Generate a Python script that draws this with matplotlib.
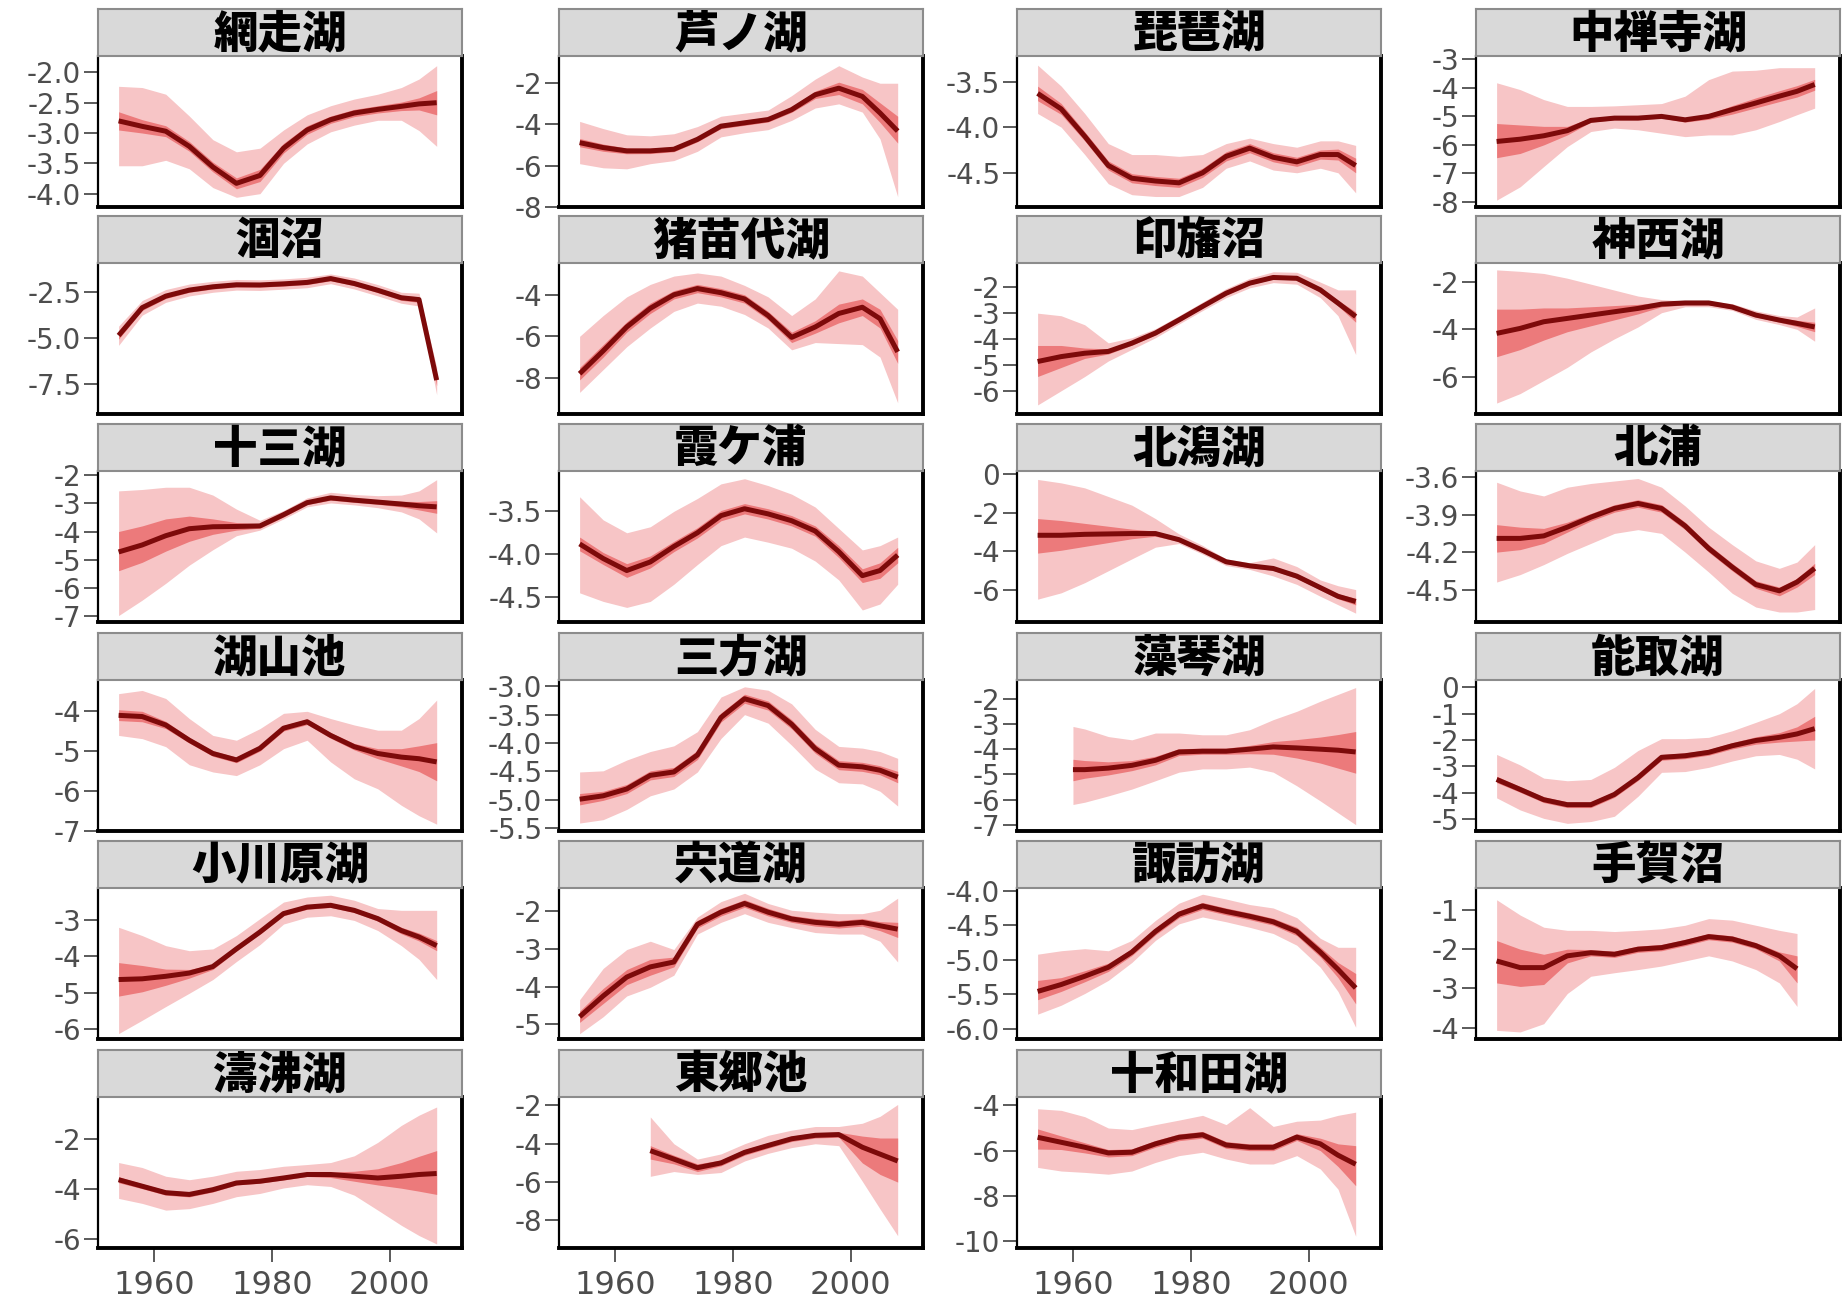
import numpy as np
import matplotlib
matplotlib.use('Agg')
import matplotlib.pyplot as plt

years = [1954, 1958, 1962, 1966, 1970, 1974, 1978, 1982, 1986, 1990, 1994, 1998, 2002, 2005, 2008]
years_mokoto = [1960, 1962, 1966, 1970, 1974, 1978, 1982, 1986, 1990, 1994, 1998, 2002, 2005, 2008]
years_togo = [1966, 1970, 1974, 1978, 1982, 1986, 1990, 1994, 1998, 2002, 2005, 2008]
years_tega = [1954, 1958, 1962, 1966, 1970, 1974, 1978, 1982, 1986, 1990, 1994, 1998, 2002, 2005]
lake_years = {'藻琴湖': years_mokoto, '東郷池': years_togo, '手賀沼': years_tega}

lakes = ['網走湖', '芦ノ湖', '琵琶湖', '中禅寺湖',
         '涸沼', '猪苗代湖', '印旛沼', '神西湖',
         '十三湖', '霞ケ浦', '北潟湖', '北浦',
         '湖山池', '三方湖', '藻琴湖', '能取湖',
         '小川原湖', '宍道湖', '諏訪湖', '手賀沼',
         '濤沸湖', '東郷池', '十和田湖']

mean_vals = {
    '網走湖': [-2.80, -2.89, -2.97, -3.22, -3.56, -3.83, -3.70, -3.25, -2.95, -2.78, -2.67, -2.61, -2.56, -2.52, -2.50],
    '芦ノ湖': [-4.88, -5.12, -5.28, -5.28, -5.20, -4.72, -4.08, -3.92, -3.76, -3.28, -2.56, -2.24, -2.64, -3.44, -4.32],
    '琵琶湖': [-3.63, -3.80, -4.10, -4.42, -4.56, -4.59, -4.61, -4.50, -4.32, -4.23, -4.33, -4.38, -4.30, -4.30, -4.42],
    '中禅寺湖': [-5.88, -5.80, -5.68, -5.50, -5.14, -5.06, -5.06, -5.00, -5.12, -5.00, -4.76, -4.53, -4.29, -4.12, -3.88],
    '涸沼': [-4.86, -3.34, -2.71, -2.38, -2.20, -2.09, -2.10, -2.04, -1.96, -1.75, -2.02, -2.39, -2.80, -2.90, -7.30],
    '猪苗代湖': [-7.80, -6.70, -5.55, -4.65, -4.00, -3.70, -3.90, -4.20, -5.00, -6.05, -5.55, -4.90, -4.60, -5.15, -6.75],
    '印旛沼': [-4.87, -4.68, -4.55, -4.48, -4.16, -3.77, -3.26, -2.74, -2.23, -1.84, -1.62, -1.65, -2.10, -2.61, -3.13],
    '神西湖': [-4.17, -3.96, -3.68, -3.54, -3.40, -3.26, -3.12, -2.94, -2.89, -2.89, -3.06, -3.40, -3.61, -3.75, -3.90],
    '十三湖': [-4.73, -4.48, -4.15, -3.90, -3.83, -3.82, -3.80, -3.40, -2.97, -2.80, -2.88, -2.95, -3.02, -3.08, -3.12],
    '霞ケ浦': [-3.88, -4.05, -4.19, -4.09, -3.91, -3.75, -3.55, -3.47, -3.53, -3.61, -3.73, -3.97, -4.25, -4.19, -4.01],
    '北潟湖': [-3.17, -3.17, -3.12, -3.10, -3.08, -3.08, -3.40, -3.95, -4.55, -4.76, -4.90, -5.30, -5.90, -6.35, -6.62],
    '北浦': [-4.09, -4.09, -4.07, -4.00, -3.92, -3.85, -3.81, -3.85, -3.99, -4.17, -4.32, -4.46, -4.51, -4.44, -4.33],
    '湖山池': [-4.12, -4.15, -4.36, -4.74, -5.07, -5.23, -4.94, -4.44, -4.28, -4.62, -4.90, -5.07, -5.16, -5.20, -5.28],
    '三方湖': [-4.99, -4.93, -4.81, -4.57, -4.51, -4.21, -3.55, -3.22, -3.34, -3.67, -4.10, -4.39, -4.42, -4.48, -4.60],
    '藻琴湖': [-4.81, -4.81, -4.75, -4.64, -4.44, -4.11, -4.08, -4.08, -4.00, -3.91, -3.95, -4.00, -4.04, -4.11],
    '能取湖': [-3.50, -3.88, -4.27, -4.46, -4.46, -4.07, -3.43, -2.66, -2.60, -2.47, -2.22, -2.02, -1.90, -1.77, -1.57],
    '小川原湖': [-4.64, -4.62, -4.55, -4.46, -4.28, -3.79, -3.32, -2.81, -2.63, -2.58, -2.72, -2.95, -3.28, -3.46, -3.70],
    '宍道湖': [-4.80, -4.25, -3.75, -3.48, -3.35, -2.35, -2.03, -1.80, -2.03, -2.21, -2.30, -2.35, -2.30, -2.39, -2.48],
    '諏訪湖': [-5.46, -5.36, -5.24, -5.11, -4.89, -4.59, -4.34, -4.22, -4.30, -4.37, -4.45, -4.59, -4.89, -5.14, -5.41],
    '手賀沼': [-2.30, -2.47, -2.47, -2.17, -2.09, -2.13, -2.00, -1.96, -1.83, -1.68, -1.74, -1.91, -2.17, -2.50],
    '濤沸湖': [-3.64, -3.90, -4.16, -4.23, -4.04, -3.77, -3.70, -3.57, -3.43, -3.43, -3.50, -3.57, -3.50, -3.43, -3.39],
    '東郷池': [-4.36, -4.80, -5.25, -5.00, -4.45, -4.09, -3.74, -3.56, -3.52, -4.18, -4.54, -4.90],
    '十和田湖': [-5.41, -5.63, -5.85, -6.10, -6.07, -5.70, -5.41, -5.30, -5.75, -5.85, -5.85, -5.40, -5.70, -6.20, -6.60],
}

inner_lo = {
    '網走湖': [-2.95, -3.00, -3.06, -3.30, -3.64, -3.92, -3.80, -3.33, -3.02, -2.84, -2.73, -2.67, -2.63, -2.62, -2.70],
    '芦ノ湖': [-5.08, -5.30, -5.42, -5.41, -5.32, -4.84, -4.20, -4.04, -3.88, -3.41, -2.74, -2.55, -3.00, -3.90, -4.90],
    '琵琶湖': [-3.71, -3.86, -4.15, -4.47, -4.61, -4.64, -4.66, -4.55, -4.37, -4.28, -4.38, -4.43, -4.35, -4.36, -4.50],
    '中禅寺湖': [-6.45, -6.30, -6.00, -5.65, -5.20, -5.12, -5.12, -5.06, -5.20, -5.10, -4.92, -4.70, -4.48, -4.32, -4.08],
    '涸沼': [-5.06, -3.49, -2.84, -2.50, -2.32, -2.21, -2.22, -2.16, -2.08, -1.87, -2.14, -2.52, -2.94, -3.05, -7.60],
    '猪苗代湖': [-8.10, -7.00, -5.80, -4.90, -4.20, -3.90, -4.10, -4.40, -5.20, -6.30, -5.85, -5.35, -5.00, -5.60, -7.30],
    '印旛沼': [-5.45, -5.10, -4.75, -4.58, -4.24, -3.84, -3.33, -2.80, -2.29, -1.90, -1.68, -1.72, -2.18, -2.72, -3.35],
    '神西湖': [-5.15, -4.85, -4.45, -4.10, -3.85, -3.60, -3.35, -3.05, -2.97, -2.97, -3.14, -3.48, -3.70, -3.88, -4.10],
    '十三湖': [-5.40, -5.10, -4.70, -4.35, -4.10, -3.95, -3.88, -3.48, -3.04, -2.88, -2.96, -3.03, -3.12, -3.23, -3.35],
    '霞ケ浦': [-3.96, -4.12, -4.27, -4.16, -3.97, -3.81, -3.61, -3.53, -3.59, -3.67, -3.79, -4.04, -4.33, -4.28, -4.10],
    '北潟湖': [-4.10, -3.95, -3.75, -3.55, -3.35, -3.22, -3.50, -4.05, -4.65, -4.86, -5.00, -5.42, -6.02, -6.48, -6.80],
    '北浦': [-4.20, -4.18, -4.13, -4.04, -3.95, -3.88, -3.84, -3.88, -4.02, -4.20, -4.35, -4.49, -4.55, -4.48, -4.38],
    '湖山池': [-4.25, -4.28, -4.45, -4.81, -5.14, -5.30, -5.01, -4.51, -4.35, -4.69, -4.98, -5.20, -5.38, -5.52, -5.75],
    '三方湖': [-5.09, -5.01, -4.89, -4.65, -4.59, -4.29, -3.63, -3.30, -3.42, -3.75, -4.18, -4.47, -4.50, -4.56, -4.70],
    '藻琴湖': [-5.25, -5.15, -5.02, -4.85, -4.62, -4.25, -4.20, -4.20, -4.18, -4.20, -4.35, -4.55, -4.75, -4.95],
    '能取湖': [-3.62, -3.99, -4.38, -4.57, -4.57, -4.18, -3.54, -2.77, -2.71, -2.58, -2.34, -2.16, -2.08, -2.04, -2.00],
    '小川原湖': [-5.10, -4.98, -4.80, -4.60, -4.36, -3.85, -3.38, -2.87, -2.69, -2.64, -2.78, -3.02, -3.37, -3.57, -3.84],
    '宍道湖': [-4.95, -4.45, -3.95, -3.70, -3.48, -2.45, -2.13, -1.90, -2.13, -2.30, -2.40, -2.45, -2.40, -2.52, -2.70],
    '諏訪湖': [-5.58, -5.46, -5.32, -5.17, -4.94, -4.64, -4.39, -4.27, -4.35, -4.42, -4.50, -4.65, -4.96, -5.26, -5.64],
    '手賀沼': [-2.86, -2.95, -2.90, -2.35, -2.17, -2.21, -2.08, -2.04, -1.91, -1.76, -1.82, -1.99, -2.30, -2.86],
    '濤沸湖': [-3.76, -4.00, -4.26, -4.33, -4.13, -3.85, -3.78, -3.65, -3.51, -3.55, -3.70, -3.85, -3.98, -4.10, -4.23],
    '東郷池': [-4.80, -5.05, -5.45, -5.15, -4.60, -4.23, -3.88, -3.70, -3.66, -5.00, -5.60, -6.00],
    '十和田湖': [-5.93, -5.95, -6.10, -6.28, -6.22, -5.85, -5.56, -5.45, -5.90, -6.00, -6.00, -5.55, -6.00, -6.70, -7.55],
}

inner_hi = {
    '網走湖': [-2.65, -2.78, -2.88, -3.14, -3.48, -3.74, -3.60, -3.17, -2.88, -2.72, -2.61, -2.55, -2.49, -2.42, -2.30],
    '芦ノ湖': [-4.68, -4.95, -5.14, -5.15, -5.08, -4.60, -3.96, -3.80, -3.64, -3.15, -2.38, -1.95, -2.30, -2.95, -3.60],
    '琵琶湖': [-3.55, -3.74, -4.05, -4.37, -4.51, -4.54, -4.56, -4.45, -4.27, -4.18, -4.28, -4.33, -4.25, -4.24, -4.34],
    '中禅寺湖': [-5.25, -5.30, -5.35, -5.35, -5.05, -5.00, -5.00, -4.95, -5.05, -4.92, -4.62, -4.35, -4.10, -3.92, -3.70],
    '涸沼': [-4.66, -3.19, -2.58, -2.26, -2.08, -1.97, -1.98, -1.92, -1.84, -1.63, -1.90, -2.26, -2.66, -2.75, -7.00],
    '猪苗代湖': [-7.50, -6.40, -5.30, -4.40, -3.80, -3.50, -3.70, -4.00, -4.80, -5.80, -5.25, -4.45, -4.20, -4.70, -6.20],
    '印旛沼': [-4.25, -4.25, -4.35, -4.38, -4.08, -3.70, -3.19, -2.68, -2.17, -1.78, -1.56, -1.58, -2.02, -2.50, -2.95],
    '神西湖': [-3.15, -3.15, -3.10, -3.10, -3.05, -3.00, -2.95, -2.85, -2.82, -2.82, -2.98, -3.32, -3.52, -3.62, -3.70],
    '十三湖': [-4.00, -3.80, -3.55, -3.45, -3.55, -3.68, -3.72, -3.32, -2.90, -2.72, -2.80, -2.87, -2.92, -2.93, -2.90],
    '霞ケ浦': [-3.80, -3.98, -4.11, -4.02, -3.85, -3.69, -3.49, -3.41, -3.47, -3.55, -3.67, -3.90, -4.17, -4.10, -3.92],
    '北潟湖': [-2.30, -2.40, -2.55, -2.70, -2.85, -2.95, -3.30, -3.85, -4.45, -4.66, -4.80, -5.18, -5.78, -6.22, -6.45],
    '北浦': [-3.98, -4.00, -4.01, -3.96, -3.89, -3.82, -3.78, -3.82, -3.96, -4.14, -4.29, -4.43, -4.48, -4.41, -4.29],
    '湖山池': [-3.98, -4.02, -4.27, -4.67, -5.00, -5.16, -4.87, -4.37, -4.21, -4.55, -4.82, -4.95, -4.95, -4.88, -4.80],
    '三方湖': [-4.89, -4.85, -4.73, -4.49, -4.43, -4.13, -3.47, -3.14, -3.26, -3.59, -4.02, -4.31, -4.34, -4.40, -4.50],
    '藻琴湖': [-4.40, -4.45, -4.50, -4.45, -4.28, -3.98, -3.96, -3.96, -3.85, -3.70, -3.62, -3.52, -3.42, -3.30],
    '能取湖': [-3.38, -3.77, -4.16, -4.35, -4.35, -3.96, -3.32, -2.55, -2.49, -2.36, -2.10, -1.88, -1.72, -1.50, -1.10],
    '小川原湖': [-4.17, -4.25, -4.35, -4.36, -4.22, -3.73, -3.26, -2.75, -2.57, -2.52, -2.66, -2.88, -3.19, -3.35, -3.56],
    '宍道湖': [-4.65, -4.05, -3.55, -3.28, -3.22, -2.25, -1.93, -1.70, -1.93, -2.12, -2.20, -2.25, -2.20, -2.28, -2.30],
    '諏訪湖': [-5.30, -5.26, -5.16, -5.05, -4.84, -4.54, -4.29, -4.17, -4.25, -4.32, -4.40, -4.53, -4.82, -5.04, -5.20],
    '手賀沼': [-1.78, -2.00, -2.13, -2.00, -2.01, -2.05, -1.92, -1.88, -1.75, -1.60, -1.66, -1.83, -2.07, -2.17],
    '濤沸湖': [-3.52, -3.80, -4.06, -4.13, -3.95, -3.69, -3.62, -3.49, -3.35, -3.33, -3.30, -3.20, -2.95, -2.70, -2.47],
    '東郷池': [-4.10, -4.60, -5.05, -4.85, -4.30, -3.95, -3.60, -3.42, -3.40, -3.60, -3.70, -3.70],
    '十和田湖': [-5.04, -5.35, -5.65, -5.95, -5.92, -5.55, -5.26, -5.15, -5.60, -5.70, -5.70, -5.25, -5.45, -5.70, -5.78],
}

outer_lo = {
    '網走湖': [-3.54, -3.54, -3.45, -3.59, -3.90, -4.06, -4.00, -3.50, -3.18, -2.98, -2.87, -2.79, -2.79, -2.96, -3.22],
    '芦ノ湖': [-5.90, -6.10, -6.15, -5.90, -5.75, -5.30, -4.60, -4.40, -4.25, -3.80, -3.20, -3.00, -3.40, -4.70, -7.50],
    '琵琶湖': [-3.85, -4.00, -4.30, -4.62, -4.74, -4.76, -4.76, -4.66, -4.45, -4.37, -4.47, -4.50, -4.45, -4.50, -4.72],
    '中禅寺湖': [-7.94, -7.47, -6.76, -6.06, -5.53, -5.41, -5.47, -5.59, -5.71, -5.65, -5.65, -5.47, -5.18, -4.94, -4.71],
    '涸沼': [-5.40, -3.75, -3.05, -2.70, -2.50, -2.38, -2.40, -2.33, -2.25, -2.03, -2.32, -2.70, -3.10, -3.25, -8.10],
    '猪苗代湖': [-8.70, -7.60, -6.50, -5.60, -4.80, -4.40, -4.55, -4.95, -5.60, -6.65, -6.30, -6.35, -6.40, -7.00, -9.20],
    '印旛沼': [-6.55, -6.00, -5.45, -4.85, -4.40, -3.95, -3.42, -2.90, -2.40, -2.02, -1.82, -1.88, -2.40, -3.10, -4.60],
    '神西湖': [-7.10, -6.70, -6.15, -5.60, -4.95, -4.40, -3.90, -3.30, -3.05, -3.05, -3.20, -3.58, -3.80, -4.00, -4.50],
    '十三湖': [-7.00, -6.45, -5.85, -5.20, -4.65, -4.15, -3.95, -3.55, -3.12, -2.98, -3.05, -3.15, -3.30, -3.55, -4.05],
    '霞ケ浦': [-4.45, -4.55, -4.62, -4.55, -4.35, -4.12, -3.90, -3.80, -3.86, -3.93, -4.08, -4.30, -4.65, -4.58, -4.35],
    '北潟湖': [-6.50, -6.17, -5.64, -5.02, -4.40, -3.79, -3.60, -4.15, -4.75, -4.95, -5.29, -5.73, -6.35, -6.79, -7.23],
    '北浦': [-4.44, -4.38, -4.30, -4.21, -4.13, -4.05, -4.02, -4.05, -4.20, -4.36, -4.53, -4.64, -4.68, -4.68, -4.66],
    '湖山池': [-4.62, -4.70, -4.90, -5.35, -5.53, -5.62, -5.35, -4.95, -4.74, -5.28, -5.70, -5.95, -6.36, -6.62, -6.83],
    '三方湖': [-5.41, -5.35, -5.17, -4.93, -4.81, -4.51, -3.92, -3.50, -3.65, -4.04, -4.46, -4.70, -4.72, -4.85, -5.11],
    '藻琴湖': [-6.19, -6.10, -5.85, -5.58, -5.25, -4.91, -4.78, -4.78, -4.71, -4.91, -5.45, -6.05, -6.52, -6.99],
    '能取湖': [-4.20, -4.66, -4.98, -5.17, -5.10, -4.90, -4.14, -3.23, -3.20, -3.04, -2.80, -2.60, -2.55, -2.73, -3.10],
    '小川原湖': [-6.14, -5.77, -5.39, -5.02, -4.64, -4.14, -3.67, -3.10, -2.91, -2.87, -3.00, -3.28, -3.70, -4.08, -4.64],
    '宍道湖': [-5.25, -4.80, -4.25, -4.02, -3.70, -2.61, -2.30, -2.07, -2.30, -2.44, -2.57, -2.61, -2.61, -2.80, -3.35],
    '諏訪湖': [-5.79, -5.66, -5.49, -5.30, -5.04, -4.72, -4.48, -4.38, -4.45, -4.53, -4.62, -4.79, -5.11, -5.46, -5.98],
    '手賀沼': [-4.07, -4.11, -3.90, -3.13, -2.69, -2.60, -2.52, -2.43, -2.30, -2.17, -2.30, -2.52, -2.86, -3.46],
    '濤沸湖': [-4.39, -4.59, -4.86, -4.80, -4.59, -4.32, -4.19, -3.97, -3.84, -3.91, -4.26, -4.86, -5.47, -5.88, -6.22],
    '東郷池': [-5.70, -5.45, -5.60, -5.50, -4.90, -4.50, -4.20, -4.00, -4.10, -5.96, -7.40, -8.80],
    '十和田湖': [-6.74, -6.90, -6.96, -7.04, -6.90, -6.52, -6.22, -6.07, -6.37, -6.59, -6.59, -6.22, -6.81, -7.70, -9.78],
}

outer_hi = {
    '網走湖': [-2.23, -2.25, -2.36, -2.72, -3.11, -3.31, -3.25, -2.95, -2.70, -2.55, -2.44, -2.36, -2.25, -2.11, -1.89],
    '芦ノ湖': [-3.85, -4.20, -4.50, -4.55, -4.45, -4.10, -3.60, -3.45, -3.30, -2.60, -1.80, -1.15, -1.70, -2.00, -2.00],
    '琵琶湖': [-3.32, -3.55, -3.85, -4.18, -4.30, -4.30, -4.32, -4.30, -4.18, -4.12, -4.18, -4.22, -4.15, -4.15, -4.20],
    '中禅寺湖': [-3.82, -4.06, -4.41, -4.65, -4.65, -4.63, -4.59, -4.55, -4.29, -3.71, -3.41, -3.38, -3.29, -3.29, -3.29],
    '涸沼': [-4.35, -2.95, -2.35, -2.05, -1.90, -1.80, -1.82, -1.77, -1.68, -1.50, -1.72, -2.08, -2.50, -2.55, -6.60],
    '猪苗代湖': [-6.00, -5.00, -4.10, -3.50, -3.10, -2.95, -3.10, -3.55, -4.10, -5.00, -4.20, -2.85, -3.10, -3.90, -4.70],
    '印旛沼': [-3.00, -3.10, -3.45, -4.15, -3.95, -3.60, -3.10, -2.57, -2.05, -1.65, -1.40, -1.42, -1.80, -2.10, -2.10],
    '神西湖': [-1.50, -1.56, -1.65, -1.85, -2.10, -2.35, -2.60, -2.75, -2.80, -2.80, -2.92, -3.22, -3.42, -3.48, -3.10],
    '十三湖': [-2.55, -2.50, -2.42, -2.42, -2.70, -3.20, -3.60, -3.25, -2.80, -2.60, -2.68, -2.72, -2.70, -2.55, -2.15],
    '霞ケ浦': [-3.33, -3.60, -3.75, -3.68, -3.50, -3.35, -3.18, -3.12, -3.20, -3.30, -3.45, -3.70, -3.95, -3.90, -3.80],
    '北潟湖': [-0.26, -0.44, -0.70, -1.15, -1.60, -2.30, -3.10, -3.70, -4.40, -4.60, -4.35, -4.80, -5.50, -5.80, -6.00],
    '北浦': [-3.64, -3.71, -3.75, -3.68, -3.65, -3.63, -3.61, -3.68, -3.83, -4.00, -4.14, -4.27, -4.33, -4.28, -4.14],
    '湖山池': [-3.58, -3.50, -3.70, -4.20, -4.62, -4.74, -4.45, -4.07, -4.02, -4.20, -4.36, -4.49, -4.49, -4.20, -3.74],
    '三方湖': [-4.51, -4.49, -4.30, -4.15, -4.05, -3.80, -3.19, -3.01, -3.07, -3.31, -3.76, -4.06, -4.09, -4.15, -4.27],
    '藻琴湖': [-3.10, -3.20, -3.50, -3.63, -3.36, -3.36, -3.43, -3.43, -3.23, -2.83, -2.50, -2.10, -1.83, -1.56],
    '能取湖': [-2.55, -2.95, -3.45, -3.55, -3.50, -3.04, -2.40, -1.95, -1.95, -1.90, -1.65, -1.33, -1.00, -0.62, -0.04],
    '小川原湖': [-3.19, -3.42, -3.70, -3.84, -3.79, -3.42, -2.95, -2.49, -2.35, -2.30, -2.44, -2.67, -2.72, -2.72, -2.72],
    '宍道湖': [-4.35, -3.52, -3.02, -2.80, -3.02, -2.16, -1.75, -1.53, -1.80, -1.98, -2.03, -2.07, -2.07, -1.98, -1.66],
    '諏訪湖': [-4.92, -4.87, -4.84, -4.87, -4.72, -4.43, -4.18, -4.05, -4.12, -4.20, -4.25, -4.39, -4.69, -4.82, -4.82],
    '手賀沼': [-0.74, -1.13, -1.44, -1.52, -1.52, -1.55, -1.52, -1.48, -1.39, -1.22, -1.26, -1.39, -1.52, -1.60],
    '濤沸湖': [-2.95, -3.15, -3.50, -3.64, -3.50, -3.30, -3.23, -3.10, -3.03, -2.95, -2.68, -2.14, -1.46, -1.05, -0.72],
    '東郷池': [-2.60, -4.00, -4.80, -4.53, -4.00, -3.56, -3.29, -3.10, -3.10, -2.93, -2.57, -1.95],
    '十和田湖': [-4.15, -4.22, -4.50, -5.00, -5.07, -4.85, -4.65, -4.44, -4.85, -4.10, -4.93, -4.70, -4.65, -4.44, -4.30],
}

y_ticks = {
    '網走湖': [-4.0, -3.5, -3.0, -2.5, -2.0], '芦ノ湖': [-8, -6, -4, -2],
    '琵琶湖': [-4.5, -4.0, -3.5], '中禅寺湖': [-8, -7, -6, -5, -4, -3],
    '涸沼': [-7.5, -5.0, -2.5], '猪苗代湖': [-8, -6, -4],
    '印旛沼': [-6, -5, -4, -3, -2], '神西湖': [-6, -4, -2],
    '十三湖': [-7, -6, -5, -4, -3, -2], '霞ケ浦': [-4.5, -4.0, -3.5],
    '北潟湖': [-6, -4, -2, 0], '北浦': [-4.5, -4.2, -3.9, -3.6],
    '湖山池': [-7, -6, -5, -4], '三方湖': [-5.5, -5.0, -4.5, -4.0, -3.5, -3.0],
    '藻琴湖': [-7, -6, -5, -4, -3, -2], '能取湖': [-5, -4, -3, -2, -1, 0],
    '小川原湖': [-6, -5, -4, -3], '宍道湖': [-5, -4, -3, -2],
    '諏訪湖': [-6.0, -5.5, -5.0, -4.5, -4.0], '手賀沼': [-4, -3, -2, -1],
    '濤沸湖': [-6, -4, -2], '東郷池': [-8, -6, -4, -2], '十和田湖': [-10, -8, -6, -4],
}

y_limits = {
    '網走湖': (-4.22, -1.73), '芦ノ湖': (-8.0, -0.68), '琵琶湖': (-4.875, -3.22),
    '中禅寺湖': (-8.18, -2.88), '涸沼': (-9.15, -0.9), '猪苗代湖': (-9.74, -2.47),
    '印旛沼': (-6.9, -1.06), '神西湖': (-7.56, -1.21), '十三湖': (-7.23, -1.84),
    '霞ケ浦': (-4.79, -3.03), '北潟湖': (-7.69, 0.18), '北浦': (-4.76, -3.55),
    '湖山池': (-7.0, -3.24), '三方湖': (-5.55, -2.89), '藻琴湖': (-7.24, -1.26),
    '能取湖': (-5.46, 0.28), '小川原湖': (-6.29, -2.1), '宍道湖': (-5.39, -1.39),
    '諏訪湖': (-6.15, -3.96), '手賀沼': (-4.29, -0.44), '濤沸湖': (-6.38, -0.32),
    '東郷池': (-9.44, -1.56), '十和田湖': (-10.3, -3.63),
}

x_ticks = [1960, 1980, 2000]

# figure layout in pixels
W, H = 1848, 1304
fig = plt.figure(figsize=(W / 100, H / 100), dpi=100)
fig.patch.set_facecolor('white')

col_left = [98, 559, 1017, 1476]
panel_w = 364
strip_top = [9, 216, 424, 633, 841, 1050]
strip_h = 47
plot_h = 151

outer_col = '#F7C5C6'
inner_col = '#EC7A7B'
line_col = '#7D0A0A'
tick_col = '#4D4D4D'


def fmt(v, ticks):
    if any(abs(t - round(t)) > 1e-9 for t in ticks):
        return f'{v:.1f}'
    return f'{int(round(v))}'


for i, lake in enumerate(lakes):
    r, c = divmod(i, 4)
    x0 = col_left[c]
    top = strip_top[r] + strip_h
    ax = fig.add_axes([x0 / W, 1 - (top + plot_h) / H, panel_w / W, plot_h / H])
    yrs = lake_years.get(lake, years)

    ax.fill_between(yrs, outer_lo[lake], outer_hi[lake], color=outer_col, lw=0)
    ax.fill_between(yrs, inner_lo[lake], inner_hi[lake], color=inner_col, lw=0)
    ax.plot(yrs, mean_vals[lake], color=line_col, lw=3.6, solid_capstyle='butt',
            solid_joinstyle='round')

    ax.set_xlim(1950.5, 2012.3)
    ax.set_ylim(*y_limits[lake])
    ticks = y_ticks[lake]
    ax.set_yticks(ticks)
    ax.set_yticklabels([fmt(t, ticks) for t in ticks])
    ax.tick_params(axis='y', length=10, width=1.3, color=tick_col, labelcolor=tick_col,
                   labelsize=20, pad=2)

    if r == 5:
        ax.set_xticks(x_ticks)
        ax.set_xticklabels([str(t) for t in x_ticks])
        ax.tick_params(axis='x', length=10, width=1.3, color=tick_col, labelcolor=tick_col,
                       labelsize=23, pad=6)
    else:
        ax.set_xticks([])

    ax.spines['top'].set_visible(False)
    ax.spines['left'].set_linewidth(1.6)
    ax.spines['bottom'].set_linewidth(2.8)
    ax.spines['right'].set_linewidth(2.8)
    for s in ('left', 'bottom', 'right'):
        ax.spines[s].set_color('black')

    # facet strip
    sax = fig.add_axes([x0 / W, 1 - top / H, panel_w / W, strip_h / H])
    sax.set_facecolor('#D9D9D9')
    sax.set_xticks([])
    sax.set_yticks([])
    for s in sax.spines.values():
        s.set_color('#8C8C8C')
        s.set_linewidth(1.5)
    sax.text(0.5, 0.47, lake, ha='center', va='center', fontsize=32, fontweight='black',
             family=['Noto Sans CJK JP', 'DejaVu Sans'], color='black', transform=sax.transAxes)

fig.savefig('out.png', dpi=100, facecolor='white')
